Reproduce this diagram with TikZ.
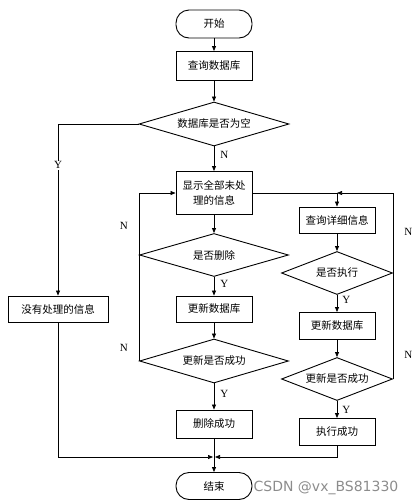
\documentclass[tikz,border=0pt]{standalone}
\usepackage{fontspec}
\setmainfont{Liberation Serif}
\newfontfamily\cjk{Noto Sans CJK SC}
\newfontfamily\marksans{DejaVu Sans}
\usetikzlibrary{positioning,shapes.geometric,arrows.meta}
\tikzset{termnode/.style={rectangle, rounded corners=13pt, draw=black, line width=0.9pt, minimum width=76pt, minimum height=28pt, inner sep=1pt, font=\cjk\fontsize{10.5}{12}\selectfont},
boxnode/.style={rectangle, draw=black, line width=0.9pt, minimum width=76pt, minimum height=27pt, inner sep=2pt, align=center, font=\cjk\fontsize{10.5}{15}\selectfont},
choicenode/.style={diamond, draw=black, line width=0.9pt, aspect=3.4, inner sep=0pt, minimum width=150pt, minimum height=44pt, font=\cjk\fontsize{10.5}{12}\selectfont},
ynlabel/.style={font=\fontsize{11}{12}\selectfont, inner sep=1pt},}

\begin{document}
\begin{tikzpicture}[x=1pt, y=-1pt, line width=0.7pt, >={Triangle[length=5pt,width=4pt]}]
\useasboundingbox (0,0) rectangle (416,504);
\node [termnode] (start) at (214,24) {开始};
\node [boxnode, minimum height=29pt] (query) at (214,66) {查询数据库};
\node [choicenode] (empty) at (214,124) {数据库是否为空};
\node [boxnode, minimum height=43pt] (show) at (214,193) {显示全部未处\\理的信息};
\node [choicenode, minimum width=149pt, minimum height=43pt] (isdel) at (214,255) {是否删除};
\node [boxnode, minimum height=26pt] (upd1) at (214,309) {更新数据库};
\node [choicenode, minimum width=149pt] (ok1) at (214,361) {更新是否成功};
\node [boxnode, minimum height=28pt] (delok) at (214,424) {删除成功};
\node [termnode, minimum height=27pt] (stop) at (214,486) {结束};
\node [boxnode, minimum width=100pt, minimum height=26pt] (none) at (58,309) {没有处理的信息};
\node [boxnode, minimum height=26pt] (detail) at (337,220) {查询详细信息};
\node [choicenode, minimum width=111pt, minimum height=43pt] (isrun) at (337,273) {是否执行};
\node [boxnode] (upd2) at (337,326) {更新数据库};
\node [choicenode, minimum width=111pt, minimum height=43pt] (ok2) at (337,379) {更新是否成功};
\node [boxnode] (runok) at (337,432) {执行成功};
\node [font=\marksans\fontsize{14}{15}\selectfont, text=black!45, inner sep=0pt] (mark) at (326,488) {CSDN @vx\_BS81330};
\coordinate (merge) at (214,457);
\coordinate (join) at (detail.north |- show.east);

\draw[->] (start) -- (query);
\draw[->] (query) -- (empty);
\draw[->] (empty.south) -- node[ynlabel, right=5pt, pos=0.35] {N} (show.north);
\draw[->] (empty.west) -| node[ynlabel, fill=white, pos=0.62] {Y} (none.north);
\draw[->] (show.south) -- (isdel.north);
\draw[->] (isdel.south) -- node[ynlabel, right=5pt, pos=0.38] {Y} (upd1.north);
\draw[->] (upd1.south) -- (ok1.north);
\draw[->] (ok1.south) -- node[ynlabel, right=5pt, pos=0.4] {Y} (delok.north);
\draw[->] (ok1.west) -- node[ynlabel, left=10pt, pos=0.12] {N} (isdel.west) -- node[ynlabel, left=10pt, pos=0.47] {N} (isdel.west |- show.west) -- (show.west);
\draw (show.east) -- (join);
\draw[->] (join) -- (detail.north);
\draw[->] (detail.south) -- (isrun.north);
\draw[->] (isrun.south) -- node[ynlabel, right=4pt, pos=0.3] {Y} (upd2.north);
\draw[->] (upd2.south) -- (ok2.north);
\draw[->] (ok2.south) -- node[ynlabel, right=4pt, pos=0.5] {Y} (runok.north);
\draw[->] (ok2.east) -- node[ynlabel, right=10pt, pos=0.23] {N} (isrun.east) -- node[ynlabel, right=10pt, pos=0.51] {N} (isrun.east |- show.east) -- (join);
\draw[->] (none.south) |- ([xshift=-1pt]merge);
\draw[->] (runok.south) |- ([xshift=1pt]merge);
\draw[->] (delok.south) -- (stop.north);
\end{tikzpicture}
\end{document}
